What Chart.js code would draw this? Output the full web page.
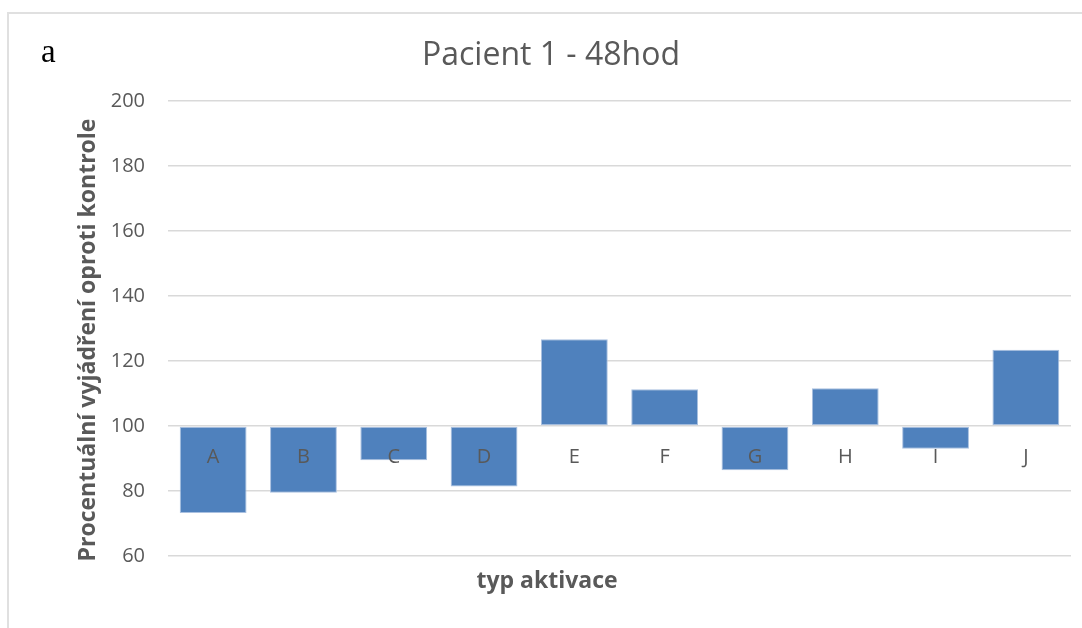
<!DOCTYPE html>
<html>
<head>
<meta charset="utf-8">
<script src="https://cdn.jsdelivr.net/npm/chart.js@4.4.1/dist/chart.umd.min.js"></script>
<style>
  html, body { margin: 0; padding: 0; background: #ffffff; overflow: hidden; }
  #wrap { position: relative; width: 1082px; height: 628px; }
  #frame { position: absolute; left: 7px; top: 12px; width: 1200px; height: 800px;
           border: 2px solid #e0e0e0; box-sizing: border-box; }
  canvas { position: absolute; left: 0; top: 0; }
</style>
</head>
<body>
<div id="wrap">
  <div id="frame"></div>
  <canvas id="chart" width="1082" height="628"></canvas>
</div>
<script>
// Activation types and expression relative to control (control = 100 %)
const categories = ['A', 'B', 'C', 'D', 'E', 'F', 'G', 'H', 'I', 'J'];
const expression = [73.2, 79.5, 89.5, 81.4, 126.7, 111.3, 86.4, 111.6, 93.0, 123.5];
const controlLevel = 100;
const yTicks = [60, 80, 100, 120, 140, 160, 180, 200];

const chartTitle = 'Pacient 1 - 48hod';
const yTitle = 'Procentuální vyjádření oproti kontrole';
const xTitle = 'typ aktivace';
const panelLetter = 'a';

const gray = '#595959';

// Titles and panel letter
const textPlugin = {
  id: 'texts',
  afterDraw(chart) {
    const ctx = chart.ctx;
    ctx.save();
    ctx.fillStyle = gray;
    ctx.textAlign = 'center';
    ctx.textBaseline = 'middle';
    ctx.font = '32px "Open Sans"';
    ctx.fillText(chartTitle, 551, 56);

    ctx.font = 'bold 23px "Open Sans"';
    ctx.fillText(xTitle, 547, 581);

    ctx.save();
    ctx.translate(88, 340);
    ctx.rotate(-Math.PI / 2);
    ctx.fillText(yTitle, 0, 0);
    ctx.restore();

    ctx.fillStyle = '#000000';
    ctx.textAlign = 'left';
    ctx.textBaseline = 'alphabetic';
    ctx.font = '33px "Liberation Serif"';
    ctx.fillText(panelLetter, 41, 61.5);
    ctx.restore();
  }
};

new Chart(document.getElementById('chart'), {
  type: 'bar',
  data: {
    labels: categories,
    datasets: [{
      data: expression,
      base: controlLevel,
      backgroundColor: '#4f81bd',
      borderColor: '#a9c0e0',
      borderWidth: 1,
      borderSkipped: false,
      barPercentage: 0.74,
      categoryPercentage: 1.0
    }]
  },
  options: {
    responsive: false,
    animation: false,
    devicePixelRatio: 1,
    layout: { padding: { left: 0, top: 101, right: 11, bottom: 72 } },
    plugins: {
      legend: { display: false },
      tooltip: { enabled: false },
      title: { display: false }
    },
    scales: {
      x: {
        type: 'category',
        position: { y: controlLevel },
        grid: { display: false, drawTicks: false },
        border: { display: false },
        ticks: {
          z: 1,
          color: gray,
          font: { family: 'Open Sans', size: 20 },
          padding: 19,
          autoSkip: false,
          maxRotation: 0
        }
      },
      y: {
        min: 60,
        max: 200,
        afterFit(scale) { scale.width = 168; },
        afterBuildTicks(scale) { scale.ticks = yTicks.map(v => ({ value: v })); },
        grid: { color: '#d9d9d9', lineWidth: 1.5, drawTicks: false },
        border: { display: false },
        ticks: {
          color: gray,
          font: { family: 'Open Sans', size: 20 },
          padding: 23
        }
      }
    }
  },
  plugins: [textPlugin]
});
</script>
</body>
</html>
